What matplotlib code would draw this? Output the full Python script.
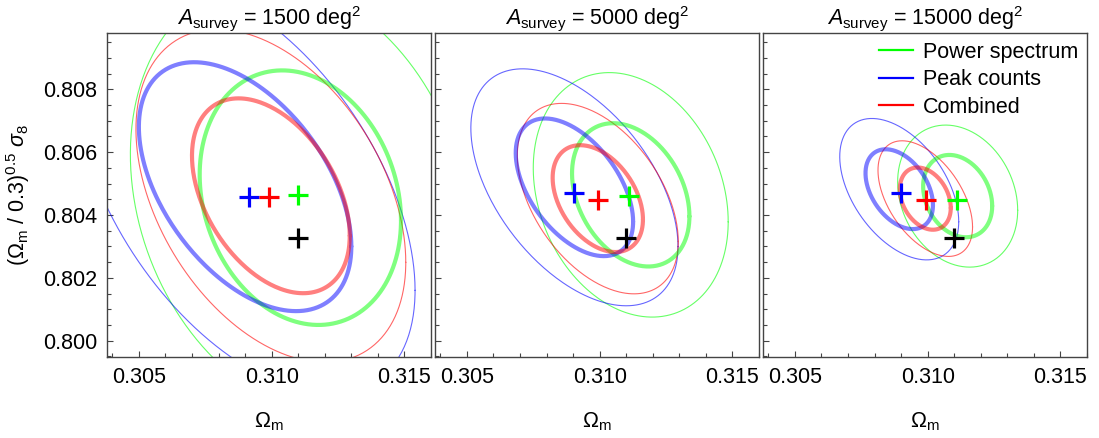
#!/usr/bin/env python3
"""Omega_m - sigma_8 constraints for three survey areas."""
import numpy as np
import matplotlib
matplotlib.use("Agg")
import matplotlib.pyplot as plt
from matplotlib.lines import Line2D
from matplotlib.ticker import MultipleLocator, FormatStrFormatter

plt.rcParams["font.family"] = ["Liberation Sans", "DejaVu Sans"]
plt.rcParams["mathtext.fontset"] = "custom"
plt.rcParams["mathtext.rm"] = "Liberation Sans"
plt.rcParams["mathtext.it"] = "Liberation Sans:italic"
plt.rcParams["mathtext.bf"] = "Liberation Sans:bold"

# survey areas (deg^2), one panel each
areas = [1500, 5000, 15000]
probes = ["Power spectrum", "Peak counts", "Combined"]
colors = ["#00ff00", "#0000ff", "#ff0000"]

# fiducial cosmology (black cross)
fid_om = 0.3110
fid_s8 = 0.80326

# best fits per panel, order: power spectrum, peaks, combined
best_om = [[0.3110, 0.30915, 0.3099],
           [0.3111, 0.30903, 0.30994],
           [0.3111, 0.30900, 0.30994]]
best_s8 = [[0.80464, 0.80456, 0.80456],
           [0.80461, 0.80471, 0.80448],
           [0.80448, 0.80470, 0.80448]]

# contour centres
cen_om = [[0.31108, 0.30900, 0.30997],
          [0.31117, 0.30905, 0.30993],
          [0.31113, 0.30893, 0.30991]]
cen_s8 = [[0.80455, 0.80490, 0.80461],
          [0.80464, 0.80488, 0.80452],
          [0.80460, 0.80482, 0.80452]]

# inner (thick) contour: half extents and tilt
in_sx = [[0.00379, 0.00400, 0.00297],
         [0.00221, 0.00221, 0.00170],
         [0.00130, 0.00127, 0.00096]]
in_sy = [[0.00405, 0.00396, 0.00310],
         [0.00228, 0.00219, 0.00170],
         [0.00131, 0.00127, 0.00099]]
in_rho = [[-0.18, -0.48, -0.41],
          [-0.30, -0.50, -0.39],
          [-0.24, -0.40, -0.30]]

# outer (thin) contour
out_sx = [[0.00640, 0.00640, 0.00508],
          [0.00367, 0.00390, 0.00303],
          [0.00226, 0.00224, 0.00178]]
out_sy = [[0.00690, 0.00660, 0.00530],
          [0.00389, 0.00377, 0.00303],
          [0.00226, 0.00225, 0.00184]]
out_rho = [[-0.20, -0.50, -0.40],
           [-0.22, -0.50, -0.45],
           [-0.20, -0.46, -0.49]]


def ellipse(cx, cy, sx, sy, rho, n=300):
    t = np.linspace(0, 2 * np.pi, n)
    x = cx + sx * np.cos(t)
    y = cy + sy * (rho * np.cos(t) + np.sqrt(1 - rho ** 2) * np.sin(t))
    return x, y


fig = plt.figure(figsize=(10.99, 4.38), dpi=100)
lefts = [107, 435, 763]
fs = 15.5

for i, area in enumerate(areas):
    ax = fig.add_axes([lefts[i] / 1099, 81 / 438, 324 / 1099, 324 / 438])
    for j in range(3):
        x, y = ellipse(cen_om[i][j], cen_s8[i][j], out_sx[i][j], out_sy[i][j], out_rho[i][j])
        ax.plot(x, y, color=colors[j], lw=0.8, alpha=0.6)
    for j in range(3):
        x, y = ellipse(cen_om[i][j], cen_s8[i][j], in_sx[i][j], in_sy[i][j], in_rho[i][j])
        ax.plot(x, y, color=colors[j], lw=3.0, alpha=0.5, solid_capstyle="round")
    for j in range(3):
        ax.plot(best_om[i][j], best_s8[i][j], "+", color=colors[j], ms=14, mew=2.3)
    ax.plot(fid_om, fid_s8, "+", color="black", ms=14, mew=2.3)

    ax.set_xlim(0.3038, 0.3160)
    ax.set_ylim(0.79948, 0.80979)
    ax.xaxis.set_major_locator(MultipleLocator(0.005))
    ax.xaxis.set_minor_locator(MultipleLocator(0.001))
    ax.yaxis.set_major_locator(MultipleLocator(0.002))
    ax.yaxis.set_minor_locator(MultipleLocator(0.0005))
    ax.xaxis.set_major_formatter(FormatStrFormatter("%.3f"))
    ax.yaxis.set_major_formatter(FormatStrFormatter("%.3f"))
    ax.tick_params(which="both", direction="in", top=False, right=False,
                   labelsize=fs, color="#444444", width=0.8)
    ax.tick_params(which="major", length=4.0, pad=7)
    ax.tick_params(which="minor", length=2.8)
    for sp in ax.spines.values():
        sp.set_color("#444444")
        sp.set_linewidth(1.0)
    if i > 0:
        ax.set_yticklabels([])
    else:
        ax.set_ylabel(r"$(\Omega_{\rm m}\ /\ 0.3)^{0.5}\ \sigma_8$", fontsize=fs, labelpad=8)
    ax.set_xlabel(r"$\Omega_{\rm m}$", fontsize=fs, labelpad=16)
    ax.set_title(r"$A_{\rm survey}$ = %d deg$^2$" % area, fontsize=fs, pad=5)

    if i == 2:
        handles = [Line2D([], [], color=c, lw=1.6) for c in colors]
        ax.legend(handles, probes, loc="upper right", frameon=False, fontsize=fs,
                  handlelength=1.6, handletextpad=0.45, labelspacing=0.3,
                  borderaxespad=0.0, bbox_to_anchor=(1.0, 1.0))

fig.savefig("out.png", dpi=100, facecolor="white")
